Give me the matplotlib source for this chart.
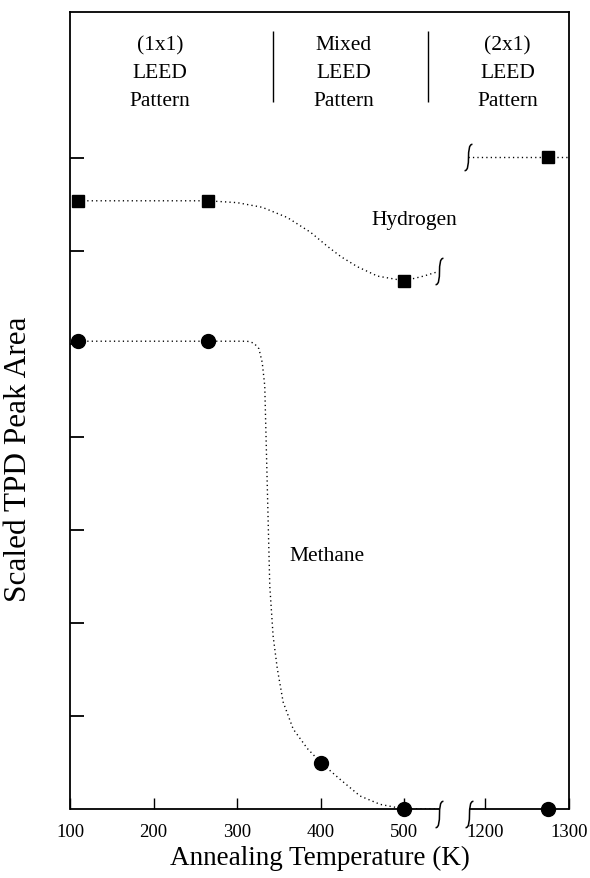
import numpy as np
import matplotlib
matplotlib.use("Agg")
import matplotlib.pyplot as plt
from matplotlib.path import Path
from matplotlib.scale import FuncScale

plt.rcParams['font.family'] = ['Liberation Serif', 'DejaVu Serif']

# ---------------- data ----------------
h_x = [110, 265, 500, 1275]
h_y = [6.54, 6.54, 5.68, 7.01]

m_x = [110, 265, 400, 500, 1275]
m_y = [5.03, 5.03, 0.50, 0.00, 0.00]

# dotted guide curves
h_guide_x = [110, 265, 300, 330, 360, 388, 408, 424, 444, 468, 500, 523, 541]
h_guide_y = [6.54, 6.54, 6.52, 6.47, 6.36, 6.20, 6.05, 5.94, 5.83, 5.73, 5.68, 5.73, 5.78]
h_guide2_x = [1175, 1300]
h_guide2_y = [7.01, 7.01]

m_guide_x = [110, 265, 312, 320, 326, 330, 333, 335, 337, 339, 343, 348, 355,
             367, 384, 400, 423, 447, 471, 500, 541]
m_guide_y = [5.03, 5.03, 5.03, 5.01, 4.95, 4.80, 4.55, 3.84, 3.12, 2.40, 1.86,
             1.51, 1.15, 0.86, 0.65, 0.50, 0.32, 0.14, 0.05, 0.00, 0.00]

x_ticks = [100, 200, 300, 400, 500, 1200, 1300]
y_ticks = [1, 2, 3, 4, 5, 6, 7]

region_labels = ["(1x1)\nLEED\nPattern", "Mixed\nLEED\nPattern", "(2x1)\nLEED\nPattern"]

# ---------------- broken x scale ----------------
BRK_L, BRK_R = 541, 1180      # positions of the break marks
SHIFT = BRK_R - BRK_L - 36    # collapsed gap


def fwd(x):
    x = np.asarray(x, dtype=float)
    mid = BRK_L + (x - BRK_L) * 36.0 / (BRK_R - BRK_L)
    return np.where(x <= BRK_L, x, np.where(x >= BRK_R, x - SHIFT, mid))


def inv(t):
    t = np.asarray(t, dtype=float)
    mid = BRK_L + (t - BRK_L) * (BRK_R - BRK_L) / 36.0
    return np.where(t <= BRK_L, t, np.where(t >= BRK_R - SHIFT, t + SHIFT, mid))


fig = plt.figure(figsize=(5.9, 8.79), dpi=100)
ax = fig.add_axes([70 / 590, 69 / 879, 499 / 590, 797 / 879])
ax.set_xscale(FuncScale(ax, (fwd, inv)))
ax.set_xlim(100, 1300)
ax.set_ylim(0, 8.57)

dot = (0, (0.9, 2.3))
ax.plot(h_guide_x, h_guide_y, color='black', lw=1.0, ls=dot)
ax.plot(h_guide2_x, h_guide2_y, color='black', lw=1.0, ls=dot, clip_on=False)
ax.plot(m_guide_x, m_guide_y, color='black', lw=1.0, ls=dot)

ax.plot(h_x, h_y, ls='none', marker='s', ms=9, color='black', clip_on=False, zorder=5)
ax.plot(m_x, m_y, ls='none', marker='o', ms=10, color='black', clip_on=False, zorder=5)

# spines: bottom spine drawn in two pieces around the break
ax.spines['bottom'].set_visible(False)
for s in ['left', 'right', 'top']:
    ax.spines[s].set_linewidth(1.3)
ax.hlines(0, 100, BRK_L, color='black', lw=1.3, clip_on=False)
ax.hlines(0, BRK_R, 1300, color='black', lw=1.3, clip_on=False)

# break marks
brk = Path([(-0.30, -1.0), (0.25, -1.0), (-0.25, 1.0), (0.30, 1.0)],
           [Path.MOVETO, Path.CURVE4, Path.CURVE4, Path.CURVE4])
brk_x = [BRK_L, BRK_R, 541, 1175]
brk_y = [-0.05, -0.05, 5.78, 7.01]
ax.plot(brk_x, brk_y, ls='none', marker=brk, ms=19, mfc='none', mec='black',
        mew=1.1, clip_on=False, zorder=6)

ax.set_xticks(x_ticks)
ax.set_xticklabels([str(t) for t in x_ticks])
ax.set_yticks(y_ticks)
ax.tick_params(axis='x', direction='in', length=8, width=1, labelsize=13.5, pad=10)
ax.tick_params(axis='y', direction='in', length=10, width=1.3, labelleft=False)
ax.xaxis.set_minor_locator(matplotlib.ticker.NullLocator())

ax.set_xlabel("Annealing Temperature (K)", fontsize=19.5)
ax.xaxis.set_label_coords(0.5, -0.045)
ax.set_ylabel("Scaled TPD Peak Area", fontsize=22.5)
ax.yaxis.set_label_coords(-0.075, 0.44)

# region labels and separators
for xf, lab in zip([0.18, 0.548, 0.877], region_labels):
    ax.text(xf, 0.924, lab, transform=ax.transAxes, ha='center', va='center',
            multialignment='center', fontsize=15.5, linespacing=1.62)
ax.vlines([343, 528], 7.6, 8.37, color='black', lw=1.0)

ax.text(0.691, 0.740, "Hydrogen", transform=ax.transAxes, ha='center',
        va='center', fontsize=15.5)
ax.text(0.515, 0.318, "Methane", transform=ax.transAxes, ha='center',
        va='center', fontsize=15.5)

fig.savefig("out.png", dpi=100)
